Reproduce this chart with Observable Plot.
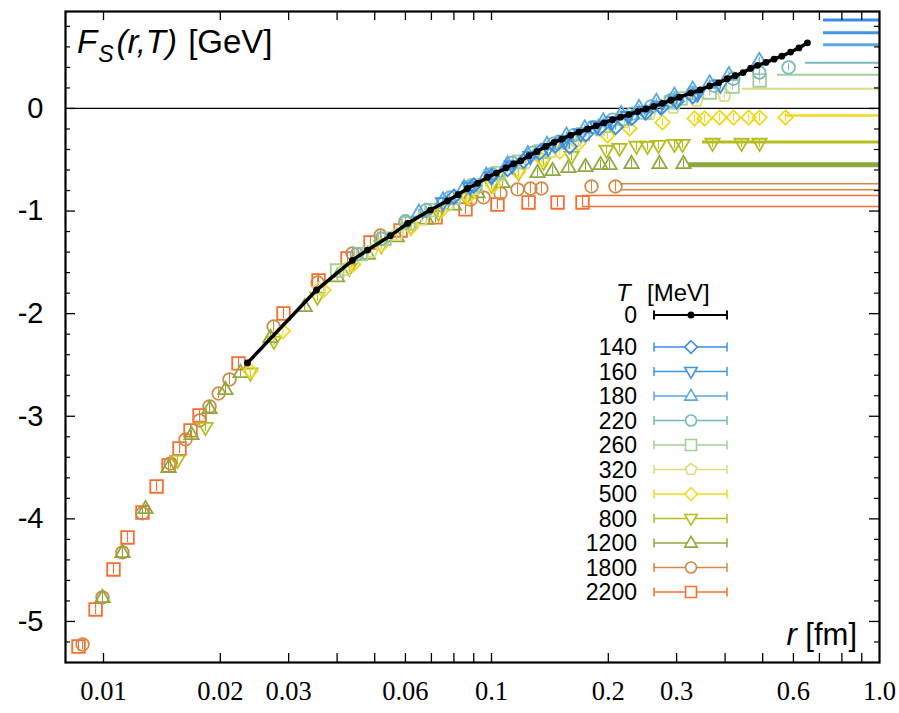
<!DOCTYPE html>
<html>
<head>
<meta charset="utf-8">
<script src="https://cdn.jsdelivr.net/npm/d3@7"></script>
<script src="https://cdn.jsdelivr.net/npm/@observablehq/plot@0.6"></script>
<style>
  body { margin: 0; background: #fff; }
  #chart { width: 899px; height: 713px; }
</style>
</head>
<body>
<div id="chart"></div>
<script>
// ---------------- DATA ----------------
// T = 0 (zero temperature) singlet free energy, [r in fm, F in GeV]
const T0 = [
  [0.0235,-2.48],[0.0354,-1.77],[0.0438,-1.48],[0.0479,-1.38],[0.0549,-1.24],[0.0608,-1.12],
  [0.0696,-0.99],[0.0770,-0.90],[0.0820,-0.84],[0.0867,-0.78],[0.0920,-0.73],[0.0977,-0.67],
  [0.103,-0.63],[0.109,-0.58],[0.114,-0.54],[0.119,-0.51],[0.125,-0.46],[0.131,-0.42],
  [0.138,-0.37],[0.145,-0.33],[0.152,-0.30],[0.160,-0.26],[0.168,-0.23],[0.177,-0.20],
  [0.186,-0.17],[0.195,-0.14],[0.205,-0.11],[0.215,-0.085],[0.226,-0.06],[0.238,-0.03],
  [0.250,-0.005],[0.262,0.02],[0.276,0.05],[0.290,0.08],[0.305,0.11],[0.326,0.15],
  [0.345,0.18],[0.365,0.22],[0.385,0.25],[0.405,0.29],[0.425,0.32],[0.445,0.35],
  [0.465,0.39],[0.485,0.42],[0.510,0.45],[0.535,0.48],[0.560,0.51],[0.590,0.55],
  [0.620,0.59],[0.652,0.64]
];
const T140 = [
  [0.080,-0.86],[0.090,-0.75],[0.100,-0.66],[0.110,-0.59],[0.121,-0.51],[0.133,-0.43],
  [0.146,-0.36],[0.159,-0.37],[0.175,-0.25],[0.190,-0.19],[0.209,-0.18],[0.230,-0.09],
  [0.250,-0.04],[0.274,0.01],[0.300,0.07],[0.330,0.12]
];
const T160 = [
  [0.075,-0.92],[0.088,-0.77],[0.100,-0.67],[0.113,-0.56],[0.126,-0.47],[0.140,-0.39],
  [0.155,-0.31],[0.170,-0.25],[0.187,-0.18],[0.205,-0.13],[0.225,-0.08],[0.248,-0.03],
  [0.272,0.02],[0.300,0.07],[0.340,0.14],[0.389,0.225]
];
const T180 = [
  [0.065,-1.01],[0.075,-0.89],[0.085,-0.77],[0.097,-0.65],[0.110,-0.54],[0.124,-0.44],
  [0.139,-0.35],[0.156,-0.26],[0.174,-0.19],[0.194,-0.12],[0.216,-0.05],[0.240,0.01],
  [0.266,0.07],[0.296,0.13],[0.330,0.19],[0.365,0.25],[0.409,0.33],[0.490,0.47]
];
const T220 = [
  [0.045,-1.42],[0.052,-1.27],[0.060,-1.10],[0.068,-0.99],[0.078,-0.87],[0.088,-0.76],
  [0.100,-0.64],[0.113,-0.53],[0.128,-0.43],[0.145,-0.34],[0.163,-0.26],[0.183,-0.18],
  [0.205,-0.11],[0.230,-0.05],[0.258,0.02],[0.290,0.08],[0.330,0.15],[0.375,0.22],
  [0.420,0.29],[0.490,0.35],[0.583,0.40]
];
const T260 = [
  [0.040,-1.58],[0.046,-1.42],[0.053,-1.27],[0.061,-1.12],[0.070,-0.99],[0.080,-0.87],
  [0.091,-0.75],[0.104,-0.63],[0.118,-0.52],[0.134,-0.42],[0.152,-0.33],[0.172,-0.25],
  [0.195,-0.17],[0.220,-0.10],[0.248,-0.04],[0.290,0.06],[0.307,0.097],[0.365,0.156],
  [0.418,0.214],[0.491,0.273]
];
const T320 = [
  [0.036,-1.76],[0.042,-1.57],[0.049,-1.39],[0.057,-1.23],[0.066,-1.08],[0.077,-0.94],
  [0.090,-0.78],[0.105,-0.65],[0.122,-0.53],[0.142,-0.42],[0.165,-0.31],[0.190,-0.21],
  [0.220,-0.13],[0.255,-0.05],[0.2945,0.01],[0.3376,0.078],[0.3985,0.127]
];
const T500 = [
  [0.0239,-2.56],[0.029,-2.17],[0.0369,-1.77],[0.044,-1.52],[0.052,-1.33],[0.062,-1.16],
  [0.074,-1.00],[0.087,-0.86],[0.101,-0.75],[0.117,-0.62],[0.135,-0.50],[0.150,-0.42],
  [0.1676,-0.34],[0.1991,-0.263],[0.2268,-0.195],[0.2759,-0.136],[0.3337,-0.097],
  [0.354,-0.097],[0.387,-0.088],[0.4205,-0.088],[0.4597,-0.088],[0.4906,-0.088],[0.5725,-0.088]
];
const T800 = [
  [0.01551,-3.43],[0.01832,-3.11],[0.0239,-2.58],[0.0275,-2.27],[0.0356,-1.84],[0.043,-1.56],
  [0.052,-1.34],[0.062,-1.16],[0.073,-1.02],[0.086,-0.87],[0.100,-0.75],[0.1175,-0.63],
  [0.1362,-0.526],[0.1608,-0.468],[0.1979,-0.409],[0.2138,-0.39],[0.2364,-0.37],[0.2524,-0.37],
  [0.2694,-0.361],[0.2962,-0.351],[0.3107,-0.351],[0.3712,-0.341],[0.441,-0.341],[0.4906,-0.341]
];
const T1200 = [
  [0.00994,-4.766],[0.01119,-4.327],[0.01283,-3.899],[0.01471,-3.499],[0.01686,-3.177],
  [0.01876,-2.924],[0.02062,-2.739],[0.02255,-2.573],[0.02694,-2.232],[0.033,-1.93],
  [0.040,-1.64],[0.048,-1.42],[0.057,-1.25],[0.068,-1.08],[0.080,-0.94],[0.092,-0.82],
  [0.1068,-0.721],[0.1314,-0.624],[0.1437,-0.604],[0.158,-0.575],[0.1747,-0.565],
  [0.191,-0.546],[0.2015,-0.546],[0.2296,-0.536],[0.271,-0.536],[0.3125,-0.536]
];
const T1800 = [
  [0.00883,-5.224],[0.00994,-4.766],[0.01119,-4.327],[0.0126,-3.947],[0.01488,-3.46],
  [0.01627,-3.226],[0.01768,-3.041],[0.01876,-2.904],[0.01979,-2.778],[0.02112,-2.641],
  [0.02743,-2.125],[0.03562,-1.696],[0.04383,-1.413],[0.05174,-1.238],[0.06003,-1.111],
  [0.08831,-0.887],[0.09537,-0.867],[0.1055,-0.828],[0.1167,-0.789],[0.126,-0.78],
  [0.1345,-0.78],[0.181,-0.76],[0.2087,-0.76]
];
const T2200 = [
  [0.00862,-5.244],[0.00954,-4.883],[0.01061,-4.493],[0.01153,-4.181],[0.0126,-3.938],
  [0.0137,-3.684],[0.01471,-3.48],[0.0157,-3.314],[0.01676,-3.138],[0.01768,-2.992],
  [0.02228,-2.485],[0.0291,-1.998],[0.03583,-1.676],[0.04255,-1.462],[0.04877,-1.306],
  [0.0583,-1.189],[0.07174,-1.062],[0.0857,-0.984],[0.1036,-0.936],[0.1246,-0.916],
  [0.148,-0.916],[0.1716,-0.916]
];

// series meta
const seriesT      = [140, 160, 180, 220, 260, 320, 500, 800, 1200, 1800, 2200];
const seriesPoints = [T140, T160, T180, T220, T260, T320, T500, T800, T1200, T1800, T2200];
const seriesErr    = [0.03, 0.03, 0.03, 0.035, 0.035, 0.035, 0.04, 0.04, 0.04, 0.05, 0.05];
// large-distance asymptotic values F_inf (band lines) and where they start
const bandLevels   = [[0.861],[0.738],[0.621],[0.445],[0.328],[0.192],[-0.068],[-0.328],[-0.549],[-0.734,-0.792],[-0.848,-0.955]];
const bandStart    = [0.7175, 0.7175, 0.7175, 0.6447, 0.5458, 0.4437, 0.5725, 0.3497, 0.322, 0.215, 0.1716];

// axis tick labels
const xLabelVals = [0.01, 0.02, 0.03, 0.06, 0.1, 0.2, 0.3, 0.6, 1.0];
const xLabelText = ["0.01", "0.02", "0.03", "0.06", "0.1", "0.2", "0.3", "0.6", "1.0"];
const yLabelVals = [-5, -4, -3, -2, -1, 0];
const legendLabels = ["0", "140", "160", "180", "220", "260", "320", "500", "800", "1200", "1800", "2200"];

// ---------------- STYLE ----------------
const seriesColor  = ["#3a8be7", "#4094e6", "#5aa8e4", "#78b9ba", "#a3cf98", "#dcdc80",
                      "#f3d81c", "#b4be1f", "#8ea93b", "#d38948", "#f76f30"];
const seriesSymbol = ["diamond", "triDown", "triUp", "circle", "square", "pentagon",
                      "diamond", "triDown", "triUp", "circle", "square"];
const bandWidth    = [3, 3, 3, 2, 2, 2, 2.5, 3, 5, 1.5, 1.5];

const SYMBOLS = {
  circle: { draw(c, size) { const R = Math.sqrt(size / Math.PI); c.moveTo(R, 0); c.arc(0, 0, R, 0, 2 * Math.PI); c.closePath(); } },
  square: { draw(c, size) { const s = Math.sqrt(size / Math.PI) * 1.0; c.moveTo(-s, -s); c.lineTo(s, -s); c.lineTo(s, s); c.lineTo(-s, s); c.closePath(); } },
  diamond: { draw(c, size) { const R = Math.sqrt(size / Math.PI) * 1.15; c.moveTo(0, -R); c.lineTo(R, 0); c.lineTo(0, R); c.lineTo(-R, 0); c.closePath(); } },
  triUp: { draw(c, size) { const R = Math.sqrt(size / Math.PI) * 1.2; c.moveTo(0, -R); c.lineTo(R * 0.95, R * 0.62); c.lineTo(-R * 0.95, R * 0.62); c.closePath(); } },
  triDown: { draw(c, size) { const R = Math.sqrt(size / Math.PI) * 1.2; c.moveTo(0, R); c.lineTo(R * 0.95, -R * 0.62); c.lineTo(-R * 0.95, -R * 0.62); c.closePath(); } },
  pentagon: { draw(c, size) { const R = Math.sqrt(size / Math.PI) * 1.08; for (let k = 0; k < 5; k++) { const a = -Math.PI / 2 + k * 2 * Math.PI / 5; const x = R * Math.cos(a), y = R * Math.sin(a); if (k === 0) c.moveTo(x, y); else c.lineTo(x, y); } c.closePath(); } }
};

// tick positions (layout, not data)
const xTicks = [];
for (let k = 1; k <= 9; k++) xTicks.push(k / 100);
for (let k = 1; k <= 9; k++) xTicks.push(k / 10);
const yMinor = [];
for (let k = -26; k <= 4; k++) { if (k % 5 !== 0) yMinor.push(k / 5); }

const W = 899, H = 713, ML = 65, MR = 20, MT = 11, MB = 51;
const FW = W - ML - MR, FH = H - MT - MB;

const marks = [];
// zero line
marks.push(Plot.ruleY([0], { stroke: "#000", strokeWidth: 1.2 }));
// asymptotic bands
seriesT.forEach((t, i) => {
  marks.push(Plot.ruleY(bandLevels[i], {
    y: d => d, x1: () => bandStart[i], x2: () => 1.0,
    stroke: seriesColor[i], strokeWidth: bandWidth[i]
  }));
});
// finite-T series, drawn from high T to low T
for (let i = seriesT.length - 1; i >= 0; i--) {
  const pts = seriesPoints[i];
  marks.push(Plot.ruleX(pts, {
    x: d => d[0], y1: d => d[1] - seriesErr[i], y2: d => d[1] + seriesErr[i],
    stroke: seriesColor[i], strokeWidth: 1.1
  }));
  marks.push(Plot.dot(pts, {
    x: d => d[0], y: d => d[1], r: 6.3, symbol: SYMBOLS[seriesSymbol[i]],
    stroke: seriesColor[i], strokeWidth: 1.8, fill: "none"
  }));
}
// T = 0
marks.push(Plot.line(T0, { x: d => d[0], y: d => d[1], stroke: "#000", strokeWidth: 3.5 }));
marks.push(Plot.dot(T0, { x: d => d[0], y: d => d[1], r: 3.4, fill: "#000", stroke: "none" }));

// ticks (inward, mirrored)
marks.push(Plot.ruleX(xTicks, { x: d => d, insetTop: FH - 9, stroke: "#000", strokeWidth: 1.3 }));
marks.push(Plot.ruleX(xTicks, { x: d => d, insetBottom: FH - 9, stroke: "#000", strokeWidth: 1.3 }));
marks.push(Plot.ruleY(yLabelVals, { y: d => d, insetRight: FW - 10, stroke: "#000", strokeWidth: 1.3 }));
marks.push(Plot.ruleY(yLabelVals, { y: d => d, insetLeft: FW - 10, stroke: "#000", strokeWidth: 1.3 }));
marks.push(Plot.ruleY(yMinor, { y: d => d, insetRight: FW - 5, stroke: "#000", strokeWidth: 1.2 }));
marks.push(Plot.ruleY(yMinor, { y: d => d, insetLeft: FW - 5, stroke: "#000", strokeWidth: 1.2 }));
// tick labels
marks.push(Plot.text(yLabelVals, {
  y: d => d, frameAnchor: "left", dx: -22, textAnchor: "end", text: d => String(d),
  fontSize: 29, fontFamily: "Liberation Sans", fill: "#000"
}));
marks.push(Plot.text(xLabelVals, {
  x: d => d, frameAnchor: "bottom", dy: 37, text: (d, i) => xLabelText[i],
  fontSize: 26.5, fontFamily: "Liberation Serif", fill: "#000"
}));
marks.push(Plot.frame({ stroke: "#000", strokeWidth: 2.2 }));

const svg = Plot.plot({
  width: W, height: H,
  marginLeft: ML, marginRight: MR, marginTop: MT, marginBottom: MB,
  style: { background: "#fff", fontFamily: "Liberation Sans" },
  x: { type: "log", domain: [0.00798, 1.0], axis: null },
  y: { domain: [-5.40, 0.945], axis: null },
  marks
});
document.getElementById("chart").appendChild(svg);

// ---------- annotation text (title, axis label, legend) ----------
const s = d3.select(svg);
const title = s.append("text").attr("x", 77).attr("y", 53).attr("text-anchor", "start")
  .attr("font-family", "Liberation Sans").attr("font-size", 33).attr("fill", "#000");
title.append("tspan").attr("font-style", "italic").text("F");
title.append("tspan").attr("font-style", "italic").attr("font-size", 23).attr("dy", 9).attr("dx", 1).text("S");
title.append("tspan").attr("font-style", "italic").attr("dy", -9).attr("dx", 3).text("(r,T)");
title.append("tspan").attr("dx", 2).text(" [GeV]");

const xl = s.append("text").attr("x", 857).attr("y", 645).attr("text-anchor", "end")
  .attr("font-family", "Liberation Sans").attr("font-size", 31).attr("fill", "#000");
xl.append("tspan").attr("font-style", "italic").text("r");
xl.append("tspan").text(" [fm]");

// legend
const lg = s.append("g").attr("font-family", "Liberation Sans").attr("fill", "#000").attr("text-anchor", "start");
lg.append("text").attr("x", 616).attr("y", 301).attr("font-size", 24).attr("font-style", "italic").text("T");
lg.append("text").attr("x", 647).attr("y", 301).attr("font-size", 24).text("[MeV]");
const rowY = [315, 347, 371.5, 396, 420.5, 445, 469.5, 494, 518.5, 543, 567.5, 592];
const lx1 = 654, lx2 = 727, lxm = 691;
legendLabels.forEach((lab, i) => {
  const y = rowY[i];
  const col = i === 0 ? "#000" : seriesColor[i - 1];
  lg.append("text").attr("x", 637).attr("y", y).attr("dy", "0.36em")
    .attr("text-anchor", "end").attr("font-size", 23).text(lab);
  const sw = i === 0 ? 2 : 1.5;
  lg.append("line").attr("x1", lx1).attr("x2", lx2).attr("y1", y).attr("y2", y).attr("stroke", col).attr("stroke-width", sw);
  lg.append("line").attr("x1", lx1).attr("x2", lx1).attr("y1", y - 4.5).attr("y2", y + 4.5).attr("stroke", col).attr("stroke-width", sw);
  lg.append("line").attr("x1", lx2).attr("x2", lx2).attr("y1", y - 4.5).attr("y2", y + 4.5).attr("stroke", col).attr("stroke-width", sw);
  if (i === 0) {
    lg.append("circle").attr("cx", lxm).attr("cy", y).attr("r", 3.5).attr("fill", "#000");
  } else {
    const p = d3.symbol().type(SYMBOLS[seriesSymbol[i - 1]]).size(Math.PI * 30)();
    lg.append("path").attr("d", p).attr("transform", `translate(${lxm},${y})`)
      .attr("fill", "#fff").attr("stroke", col).attr("stroke-width", 1.6);
  }
});
</script>
</body>
</html>
